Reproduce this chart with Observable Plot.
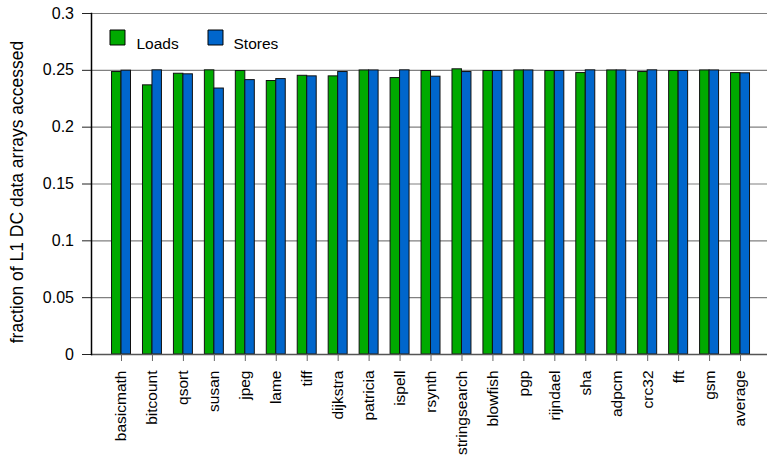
<!DOCTYPE html>
<html>
<head>
<meta charset="utf-8">
<script src="https://cdn.jsdelivr.net/npm/d3@7"></script>
<script src="https://cdn.jsdelivr.net/npm/@observablehq/plot@0.6"></script>
<style>
  html, body { margin: 0; padding: 0; background: #fff; }
  #chart svg { display: block; font-family: "Liberation Sans", Arial, sans-serif; }
</style>
</head>
<body>
<div id="chart"></div>
<script>
const benchmarks = ["basicmath","bitcount","qsort","susan","jpeg","lame","tiff","dijkstra","patricia","ispell","rsynth","stringsearch","blowfish","pgp","rijndael","sha","adpcm","crc32","fft","gsm","average"];
const loads  = [0.2485,0.2368,0.2470,0.2500,0.2494,0.2406,0.2452,0.2447,0.2499,0.2432,0.2494,0.2509,0.2494,0.2499,0.2494,0.2476,0.2499,0.2485,0.2494,0.2499,0.2476];
const stores = [0.2497,0.2500,0.2465,0.2340,0.2414,0.2423,0.2447,0.2485,0.2499,0.2500,0.2444,0.2485,0.2494,0.2499,0.2494,0.2500,0.2499,0.2500,0.2494,0.2499,0.2474];
const seriesNames = ["Loads","Stores"];
const seriesColors = ["#00aa00","#0066cc"];
const yTicks = [0,0.05,0.1,0.15,0.2,0.25,0.3];
const yLabel = "fraction of L1 DC data arrays accessed";

const data = benchmarks.map((b,i) => ({bench: b, loads: loads[i], stores: stores[i]}));

const W = 767, H = 456, mL = 91, mR = 0;
const pi = 0.387, po = 0.614;
const step = (W - mL - mR) / (benchmarks.length - pi + 2*po);
const half = step * (1 - pi) / 2;

// legend layout (pixel offsets from the frame's top-left corner)
const legendSquareDx = [26, 124];
const legendTextDx = [45, 142];
const legendDy = 24;

const legendMarks = seriesNames.flatMap((name, i) => [
  Plot.dot([name], {frameAnchor: "top-left", dx: legendSquareDx[i], dy: legendDy, symbol: "square", r: 8.46,
    fill: seriesColors[i], stroke: "#000", strokeWidth: 1}),
  Plot.text([name], {frameAnchor: "top-left", dx: legendTextDx[i], dy: legendDy, text: d => d, textAnchor: "start",
    fontSize: 15.5, fill: "#000"})
]);

const chart = Plot.plot({
  width: W, height: H,
  marginLeft: mL, marginRight: mR, marginTop: 13, marginBottom: 102,
  style: {fontSize: "15px", fontFamily: "Liberation Sans, Arial, sans-serif", color: "#000"},
  x: {type: "band", domain: benchmarks, paddingInner: pi, paddingOuter: po, align: 0.54, round: false},
  y: {domain: [0, 0.3]},
  marks: [
    Plot.ruleY(yTicks.filter(d => d > 0), {stroke: "#808080", strokeWidth: 1.2}),
    Plot.barY(data, {x: "bench", y: "loads", fill: seriesColors[0], stroke: "#111", strokeWidth: 1, insetRight: half}),
    Plot.barY(data, {x: "bench", y: "stores", fill: seriesColors[1], stroke: "#111", strokeWidth: 1, insetLeft: half}),
    Plot.ruleY([0], {stroke: "#555", strokeWidth: 1.5}),
    Plot.axisX({tickRotate: -90, tickSize: 7, tickPadding: 9, fontSize: 15.5, stroke: "#666", label: null}),
    Plot.axisY({ticks: yTicks, tickFormat: d => String(d), tickSize: 9, tickPadding: 8.5, fontSize: 16, stroke: "#222",
      label: null}),
    Plot.frame({anchor: "left", stroke: "#000", strokeWidth: 1.5}),
    Plot.text([yLabel], {frameAnchor: "left", rotate: -90, dx: -74, dy: 8, textAnchor: "middle", text: d => d, fontSize: 17.5, fill: "#000"}),
    ...legendMarks
  ]
});
document.getElementById("chart").appendChild(chart);
</script>
</body>
</html>
